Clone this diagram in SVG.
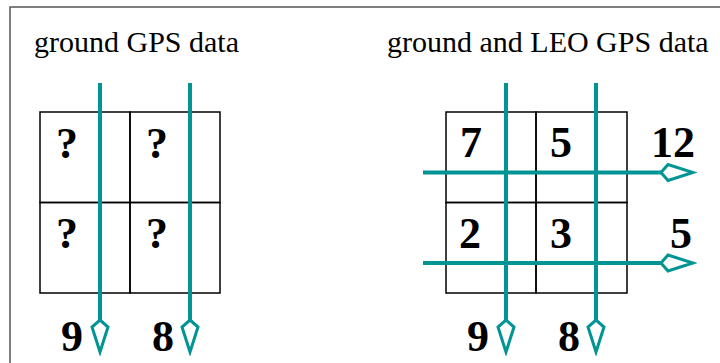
<svg xmlns="http://www.w3.org/2000/svg" width="720" height="363" viewBox="0 0 720 363">
<style>
.title{font-family:"Liberation Serif","Times New Roman",serif;font-size:30px;fill:#000}
.num{font-family:"Liberation Serif","Times New Roman",serif;font-size:44px;font-weight:bold;fill:#000}
.cell{fill:none;stroke:#000;stroke-width:1.5}
.ray{fill:none;stroke:#009494;stroke-width:4}
</style>
<defs>
<marker id="head" viewBox="-2 -10 38 20" markerWidth="38" markerHeight="20" refX="0" refY="0" markerUnits="userSpaceOnUse" orient="auto">
<path d="M0,0 L7,-8 L32,0 L7,8 Z" fill="#fff" stroke="#009494" stroke-width="3" stroke-linejoin="miter"/>
</marker>
</defs>
<rect width="720" height="363" fill="#fff"/>
<rect x="10" y="7" width="720" height="380" fill="none" stroke="#555" stroke-width="1.5"/>

<g id="left-panel">
<text class="title" x="34" y="52">ground GPS data</text>
<g id="left-grid">
<rect class="cell" x="40" y="112" width="90" height="90.5"/>
<rect class="cell" x="130" y="112" width="90" height="90.5"/>
<rect class="cell" x="40" y="202.5" width="90" height="90.5"/>
<rect class="cell" x="130" y="202.5" width="90" height="90.5"/>
<text class="num" x="56" y="158">?</text>
<text class="num" x="146" y="158">?</text>
<text class="num" x="56" y="248">?</text>
<text class="num" x="146" y="248">?</text>
</g>
<text class="num" x="61" y="351">9</text>
<text class="num" x="152" y="351">8</text>
</g>

<g id="right-panel">
<text class="title" x="387" y="52">ground and LEO GPS data</text>
<g id="right-grid">
<rect class="cell" x="446" y="112" width="90" height="90.5"/>
<rect class="cell" x="536" y="112" width="91" height="90.5"/>
<rect class="cell" x="446" y="202.5" width="90" height="90.5"/>
<rect class="cell" x="536" y="202.5" width="91" height="90.5"/>
<text class="num" x="460" y="157">7</text>
<text class="num" x="550" y="157">5</text>
<text class="num" x="459" y="248">2</text>
<text class="num" x="550" y="248">3</text>
</g>
<text class="num" x="651" y="157">12</text>
<text class="num" x="670" y="248">5</text>
<text class="num" x="467" y="351">9</text>
<text class="num" x="558" y="351">8</text>
</g>

<g id="connectors">
<line class="ray" x1="100" y1="83" x2="100" y2="320" marker-end="url(#head)"/>
<line class="ray" x1="190" y1="83" x2="190" y2="320" marker-end="url(#head)"/>
<line class="ray" x1="506" y1="83" x2="506" y2="320" marker-end="url(#head)"/>
<line class="ray" x1="596" y1="83" x2="596" y2="320" marker-end="url(#head)"/>
<line class="ray" x1="423" y1="172.5" x2="661" y2="172.5" marker-end="url(#head)"/>
<line class="ray" x1="423" y1="263" x2="661" y2="263" marker-end="url(#head)"/>
</g>
</svg>
